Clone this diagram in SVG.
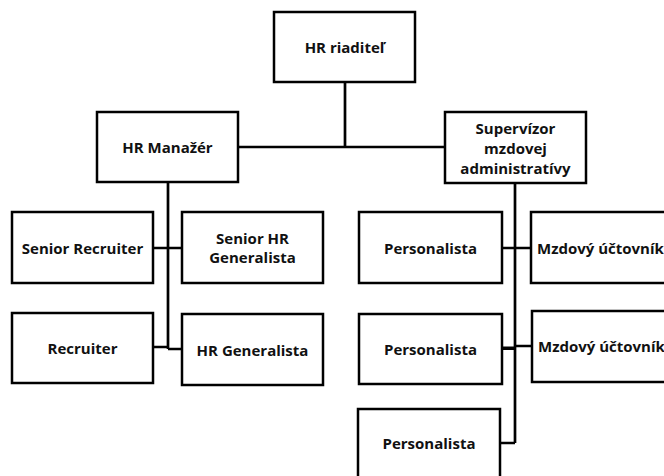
<svg xmlns="http://www.w3.org/2000/svg" width="664" height="476" viewBox="0 0 664 476">
<style>
.box{fill:#fff;stroke:#000;stroke-width:2.5}
.t{font-family:"Open Sans","Noto Sans","Liberation Sans",sans-serif;font-weight:bold;font-size:15px;fill:#111;text-anchor:middle;dominant-baseline:central}
.c{fill:none;stroke:#000;stroke-width:2.7}
</style>
<rect width="664" height="476" fill="#fff"/>
<g id="connectors">
<path class="c" d="M345,82V147M238,147H445"/>
<path class="c" d="M168,182V349M153,248H182M153,347H168M168,349H182"/>
<path class="c" d="M515,183V443M502,248H531M502,348.5H515M515,346H532M500,443H515"/>
<path d="M502,346.5H515V350H502Z" fill="#000"/>
</g>
<g id="n-riaditel"><rect class="box" x="274" y="12" width="141" height="70"/><text class="t" x="344.5" y="47">HR riaditeľ</text></g>
<g id="n-manazer"><rect class="box" x="97" y="112" width="141" height="70"/><text class="t" x="167.5" y="147">HR Manažér</text></g>
<g id="n-supervizor"><rect class="box" x="445" y="112" width="141" height="71"/><text class="t" x="515.5" y="128">Supervízor</text><text class="t" x="515.5" y="148">mzdovej</text><text class="t" x="515.5" y="168">administratívy</text></g>
<g id="n-senior-recruiter"><rect class="box" x="12" y="212" width="141" height="71"/><text class="t" x="82.5" y="248">Senior Recruiter</text></g>
<g id="n-senior-hr-gen"><rect class="box" x="182" y="212" width="141" height="71"/><text class="t" x="252.5" y="238">Senior HR</text><text class="t" x="252.5" y="257">Generalista</text></g>
<g id="n-recruiter"><rect class="box" x="12" y="313" width="141" height="70"/><text class="t" x="82.5" y="348">Recruiter</text></g>
<g id="n-hr-gen"><rect class="box" x="182" y="314" width="141" height="71"/><text class="t" x="252.5" y="350">HR Generalista</text></g>
<g id="n-pers1"><rect class="box" x="359" y="212" width="143" height="71"/><text class="t" x="430.5" y="248">Personalista</text></g>
<g id="n-mzd1"><rect class="box" x="531" y="212" width="142" height="71"/><text class="t" x="537" y="248" style="text-anchor:start">Mzdový účtovník</text></g>
<g id="n-pers2"><rect class="box" x="359" y="314" width="143" height="70"/><text class="t" x="430.5" y="349">Personalista</text></g>
<g id="n-mzd2"><rect class="box" x="532" y="311" width="142" height="71"/><text class="t" x="538" y="346" style="text-anchor:start">Mzdový účtovník</text></g>
<g id="n-pers3"><rect class="box" x="358" y="409" width="142" height="80"/><text class="t" x="429" y="443">Personalista</text></g>
</svg>
